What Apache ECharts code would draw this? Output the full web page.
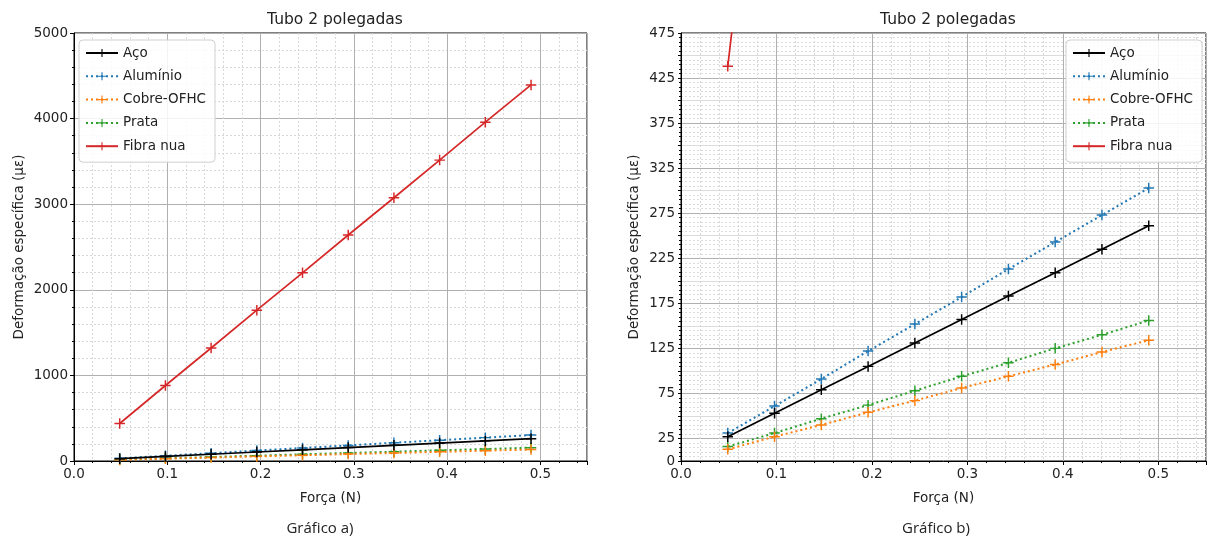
<!DOCTYPE html>
<html>
<head>
<meta charset="utf-8">
<script src="https://cdn.jsdelivr.net/npm/echarts@6/dist/echarts.min.js"></script>
<style>
html,body{margin:0;padding:0;background:#fff;}
#chart{width:1208px;height:540px;}
</style>
</head>
<body>
<div id="chart"></div>
<script>
// ---- data ----
const forces = [0.049, 0.098, 0.147, 0.196, 0.245, 0.294, 0.343, 0.392, 0.441, 0.490];
const aco = [27, 53, 79, 105, 131, 157, 183, 209, 235, 261];
const aluminio = [31, 61, 91, 122, 152, 182, 213, 243, 273, 303];
const cobre = [13, 27, 40, 54, 67, 81, 94, 107, 121, 134];
const prata = [16, 31, 47, 62, 78, 94, 109, 125, 140, 156];
const fibra = [438, 882, 1320, 1762, 2198, 2640, 3075, 3515, 3958, 4393];
const seriesNames = ['Aço', 'Alumínio', 'Cobre-OFHC', 'Prata', 'Fibra nua'];
const subTitle = 'Tubo 2 polegadas';
const captions = ['Gráfico a)', 'Gráfico b)'];
const xName = 'Força (N)';
const yName = 'Deformação específica (με)';

// ---- styling ----
const FONT = 'DejaVu Sans';
const FS = 13.5;
const colors = ['#000000', '#1f77b4', '#ff7f0e', '#2ca02c', '#d62728'];
const dotted = [2, 3];
const lineTypes = ['solid', dotted, dotted, dotted, 'solid'];
const values = [aco, aluminio, cobre, prata, fibra];
const plus = 'path://M0,4.3H10V5.7H0Z M4.3,0H5.7V10H4.3Z';

function pairs(ys) { return forces.map((f, i) => [f, ys[i]]); }

function xAxisDef(gi) {
  return {
    type: 'value', gridIndex: gi, min: 0, max: 0.55, interval: 0.1,
    name: xName, nameLocation: 'middle', nameGap: 30,
    nameTextStyle: { fontFamily: FONT, fontSize: FS, color: '#222' },
    axisLine: { show: true, onZero: false, lineStyle: { color: '#000', width: 1 } },
    axisTick: { show: true, length: 4, lineStyle: { color: '#000' } },
    minorTick: { show: true, splitNumber: 5, length: 2, lineStyle: { color: '#000' } },
    axisLabel: { fontFamily: FONT, fontSize: FS, color: '#222', margin: 6,
      showMaxLabel: false, formatter: v => v.toFixed(1) },
    splitLine: { show: true, lineStyle: { color: '#b0b0b0', width: 1 } },
    minorSplitLine: { show: true, lineStyle: { color: '#d8d8d8', width: 1, type: [2, 2] } }
  };
}

function legendDef(left) {
  return { data: seriesNames, orient: 'vertical', left: left, top: 40,
    itemWidth: 32, itemHeight: 10, itemGap: 9.3, padding: [6, 9, 9, 6],
    backgroundColor: 'rgba(255,255,255,0.85)', borderColor: '#d0d0d0', borderWidth: 1, borderRadius: 4,
    textStyle: { fontFamily: FONT, fontSize: FS, color: '#222' } };
}

const option = {
  backgroundColor: '#fff',
  animation: false,
  title: [
    { text: subTitle, left: 330, top: 7, textAlign: 'center',
      textStyle: { fontFamily: FONT, fontSize: 15.5, fontWeight: 'normal', color: '#222' } },
    { text: subTitle, left: 943, top: 7, textAlign: 'center',
      textStyle: { fontFamily: FONT, fontSize: 15.5, fontWeight: 'normal', color: '#222' } },
    { text: captions[0], left: 315, top: 516, textAlign: 'center',
      textStyle: { fontFamily: 'Open Sans', fontSize: 15, fontWeight: 'normal', color: '#222' } },
    { text: captions[1], left: 931, top: 516, textAlign: 'center',
      textStyle: { fontFamily: 'Open Sans', fontSize: 15, fontWeight: 'normal', color: '#222' } }
  ],
  grid: [
    { left: 74, right: 621, top: 33, bottom: 79, show: true, borderColor: '#000', borderWidth: 1, backgroundColor: 'transparent' },
    { left: 681, right: 2, top: 33, bottom: 79, show: true, borderColor: '#000', borderWidth: 1, backgroundColor: 'transparent' }
  ],
  legend: [legendDef(79), legendDef(1066)],
  xAxis: [xAxisDef(0), xAxisDef(1)],
  yAxis: [
    { type: 'value', gridIndex: 0, min: 0, max: 5000, interval: 1000,
      name: yName, nameLocation: 'middle', nameGap: 48,
      nameTextStyle: { fontFamily: FONT, fontSize: FS, color: '#222' },
      axisLine: { show: true, lineStyle: { color: '#000', width: 1 } },
      axisTick: { show: true, length: 4, lineStyle: { color: '#000' } },
      minorTick: { show: true, splitNumber: 5, length: 2, lineStyle: { color: '#000' } },
      axisLabel: { fontFamily: FONT, fontSize: FS, color: '#222', margin: 6, formatter: v => String(v) },
      splitLine: { show: true, lineStyle: { color: '#b0b0b0', width: 1 } },
      minorSplitLine: { show: true, lineStyle: { color: '#d8d8d8', width: 1, type: [2, 2] } } },
    { type: 'value', gridIndex: 1, min: 0, max: 475, interval: 25,
      name: yName, nameLocation: 'middle', nameGap: 40,
      nameTextStyle: { fontFamily: FONT, fontSize: FS, color: '#222' },
      axisLine: { show: true, lineStyle: { color: '#000', width: 1 } },
      axisTick: { show: true, length: 3, lineStyle: { color: '#000' } },
      minorTick: { show: true, splitNumber: 5, length: 2, lineStyle: { color: '#000' } },
      axisLabel: { fontFamily: FONT, fontSize: FS, color: '#222', margin: 6,
        formatter: v => (v === 0 || v % 50 === 25) ? String(v) : '' },
      splitLine: { show: true, lineStyle: { color: ['#dcdcdc', '#b0b0b0'], width: 1 } },
      minorSplitLine: { show: true, lineStyle: { color: '#dcdcdc', width: 1, type: [2, 2] } } }
  ],
  series: []
};

[0, 1].forEach(gi => {
  seriesNames.forEach((name, k) => {
    option.series.push({
      name: name, type: 'line', xAxisIndex: gi, yAxisIndex: gi,
      data: pairs(values[k]), clip: true,
      symbol: plus, symbolSize: 10.5, showSymbol: true,
      color: colors[k],
      itemStyle: { color: colors[k] },
      lineStyle: { color: colors[k], width: k === 0 || k === 4 ? 1.7 : 2, type: lineTypes[k] },
      emphasis: { disabled: true },
      z: 10 - k
    });
  });
});

const chart = echarts.init(document.getElementById('chart'), null, { renderer: 'canvas' });
chart.setOption(option);
</script>
</body>
</html>
